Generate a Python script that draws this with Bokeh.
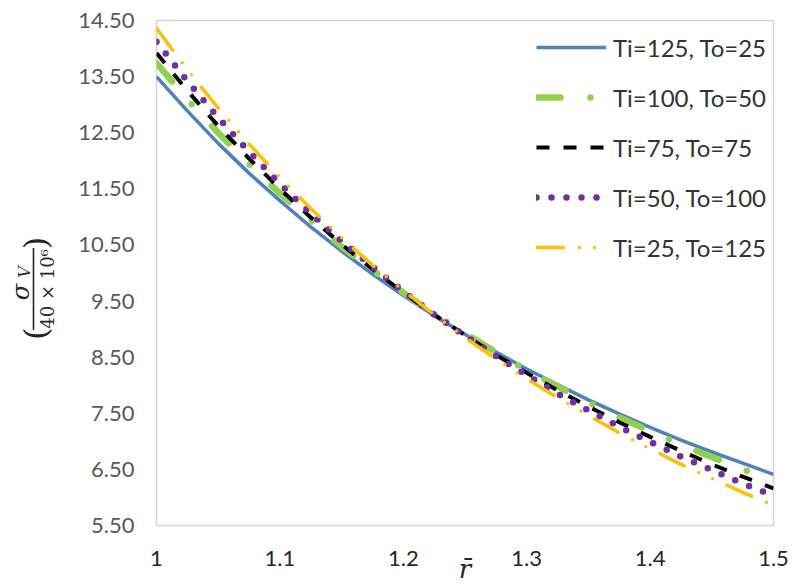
import numpy as np
from bokeh.plotting import figure
from bokeh.layouts import row
from bokeh.models import Range1d, FixedTicker, Legend, LegendItem
from bokeh.core.properties import value
from bokeh.embed import file_html
from bokeh.resources import INLINE

# ---------------- data ----------------
r = [1.000, 1.025, 1.050, 1.075, 1.100, 1.125, 1.150, 1.175, 1.200, 1.225, 1.250,
     1.275, 1.300, 1.325, 1.350, 1.375, 1.400, 1.425, 1.450, 1.475, 1.500]

ti125_to25 = [13.50, 12.89, 12.31, 11.78, 11.29, 10.82, 10.39, 9.98, 9.60, 9.24, 8.91,
              8.59, 8.29, 8.01, 7.74, 7.49, 7.25, 7.02, 6.81, 6.61, 6.41]
ti100_to50 = [13.74, 13.09, 12.50, 11.94, 11.42, 10.93, 10.47, 10.05, 9.65, 9.27, 8.92,
              8.59, 8.27, 7.98, 7.70, 7.43, 7.18, 6.94, 6.72, 6.50, 6.30]
ti75_to75 = [13.92, 13.25, 12.62, 12.04, 11.50, 10.99, 10.51, 10.07, 9.65, 9.26, 8.89,
             8.54, 8.22, 7.91, 7.62, 7.34, 7.08, 6.83, 6.59, 6.37, 6.16]
ti50_to100 = [14.12, 13.42, 12.77, 12.16, 11.59, 11.06, 10.57, 10.11, 9.67, 9.26, 8.88,
              8.52, 8.18, 7.85, 7.55, 7.26, 6.99, 6.73, 6.49, 6.25, 6.03]
ti25_to125 = [14.36, 13.62, 12.94, 12.30, 11.70, 11.15, 10.63, 10.14, 9.69, 9.26, 8.85,
              8.47, 8.11, 7.78, 7.46, 7.15, 6.87, 6.59, 6.34, 6.09, 5.86]

series_labels = ["Ti=125, To=25", "Ti=100, To=50", "Ti=75, To=75",
                 "Ti=50, To=100", "Ti=25, To=125"]

x_ticks = [1.0, 1.1, 1.2, 1.3, 1.4, 1.5]
x_tick_labels = ["1", "1.1", "1.2", "1.3", "1.4", "1.5"]
y_ticks = [5.5, 6.5, 7.5, 8.5, 9.5, 10.5, 11.5, 12.5, 13.5, 14.5]
y_tick_labels = ["5.50", "6.50", "7.50", "8.50", "9.50", "10.50", "11.50",
                 "12.50", "13.50", "14.50"]

x_title = "r\u0304"
y_title_num = "\u03c3"
y_title_sub = "V"
y_title_den = "40 \u00d7 10\u2076"

TXT = "#262626"
W, H = 792, 586
STRIP = 64
FT, FB = 20, 526          # frame top / bottom in page pixels

# ---------------- main figure ----------------
p = figure(width=W - STRIP, height=H, x_range=Range1d(1.0, 1.5), y_range=Range1d(5.5, 14.5),
           output_backend="svg", toolbar_location=None,
           min_border_left=156 - STRIP, min_border_right=19, min_border_top=FT,
           min_border_bottom=H - FB, background_fill_color="white",
           border_fill_color="white")
p.xgrid.visible = False
p.ygrid.visible = False
p.outline_line_color = "#d4d4d4"
p.outline_line_width = 1.5

for ax in (p.xaxis[0], p.yaxis[0]):
    ax.axis_line_color = None
    ax.major_tick_line_color = None
    ax.minor_tick_line_color = None
    ax.major_tick_in = 0
    ax.major_tick_out = 0
    ax.major_label_text_font = "Lato"
    ax.major_label_text_font_size = "22px"

p.xaxis.ticker = FixedTicker(ticks=x_ticks)
p.xaxis.major_label_overrides = dict(zip(x_ticks, x_tick_labels))
p.xaxis.major_label_text_color = TXT
p.xaxis.major_label_standoff = 25
p.xaxis.axis_label = x_title
p.xaxis.axis_label_text_font = "DejaVu Serif"
p.xaxis.axis_label_text_font_style = "italic"
p.xaxis.axis_label_text_font_size = "26px"
p.xaxis.axis_label_text_color = TXT
p.xaxis.axis_label_standoff = -15

p.yaxis.ticker = FixedTicker(ticks=y_ticks)
p.yaxis.major_label_overrides = dict(zip(y_ticks, y_tick_labels))
p.yaxis.major_label_text_color = "#595959"
p.yaxis.major_label_standoff = 22

# ---------------- series ----------------
styles = [
    dict(line_color="#4f81bd", line_width=3.5),
    dict(line_color="#92d050", line_width=6.5, line_dash="24 30 0 30", line_cap="round"),
    dict(line_color="#000000", line_width=4, line_dash="13 14"),
    dict(line_color="#7030a0", line_width=6.5, line_dash="0 15", line_cap="round"),
    dict(line_color="#ffc000", line_width=3.5, line_dash="27 16 0 15 0 16", line_cap="round"),
]
series = [ti125_to25, ti100_to50, ti75_to75, ti50_to100, ti25_to125]
renderers = []
for ys, st in zip(series, styles):
    renderers.append(p.line(r, ys, line_join="round", **st))

ITEM_H, GAP = 42, 8
leg_h = 5 * ITEM_H + 4 * GAP
leg_top = 29 - 2                       # places the first row at page y ~ 47
legend = Legend(items=[LegendItem(label=lab, renderers=[rd])
                       for lab, rd in zip(series_labels, renderers)],
                location=(536 - 156, FB - (leg_top + leg_h)), margin=0, padding=0,
                glyph_width=70, glyph_height=ITEM_H, label_height=ITEM_H,
                label_standoff=7, spacing=GAP,
                label_text_font="Lato", label_text_font_size="24px",
                label_text_color="#333333",
                border_line_color=None, background_fill_alpha=0)
p.add_layout(legend)

# ---------------- left strip holding the y-axis title ----------------
# its frame is aligned with the main frame (page y 20..526); data y = 586 - page y
t = figure(width=STRIP, height=H, x_range=Range1d(0, STRIP), y_range=Range1d(H - FB, H - FT),
           output_backend="svg", toolbar_location=None, title=None,
           x_axis_location=None, y_axis_location=None,
           min_border_left=0, min_border_right=0, min_border_top=FT, min_border_bottom=H - FB,
           background_fill_color="white", border_fill_color="white")
t.xgrid.visible = False
t.ygrid.visible = False
t.outline_line_color = None

rot = np.pi / 2
def put(px, py, s, size, style="normal"):
    t.text(x=[px], y=[H - py], text=[s], angle=rot, text_align="center",
           text_baseline="middle", text_font=value("DejaVu Serif"),
           text_font_style=style, text_font_size=size, text_color=TXT)

put(20, 292, y_title_num, "24px", "italic")
put(24, 272, y_title_sub, "16px", "italic")
put(47, 289, y_title_den, "18px")
put(35, 334, "(", "32px")
put(35, 243, ")", "32px")
t.segment(x0=[33], y0=[H - 330], x1=[33], y1=[H - 248], line_color=TXT, line_width=1.6)

layout = row(t, p)
with open("out.html", "w") as f:
    f.write(file_html(layout, INLINE))
